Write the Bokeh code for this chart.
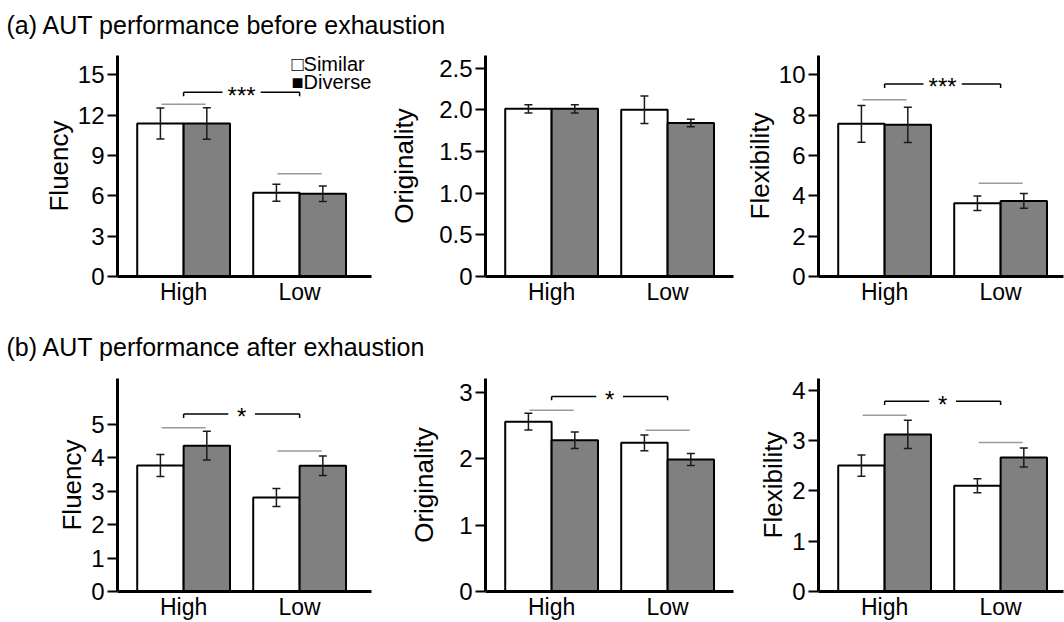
import numpy as np
from bokeh.plotting import figure
from bokeh.models import Range1d, FixedTicker, Whisker, ColumnDataSource, TeeHead
from bokeh.layouts import column, row
from bokeh.embed import file_html
from bokeh.resources import INLINE
from bokeh.core.properties import value

FONT = "Liberation Sans"

# ---------------- data ----------------
groups = ["High", "Low"]
series = ["Similar", "Diverse"]
section_titles = ["(a) AUT performance before exhaustion",
                  "(b) AUT performance after exhaustion"]
measures = ["Fluency", "Originality", "Flexibility"]

# (a) before exhaustion
fluency_a_similar = [11.38, 6.22]
fluency_a_similar_err = [1.15, 0.63]
fluency_a_diverse = [11.38, 6.15]
fluency_a_diverse_err = [1.17, 0.57]
fluency_a_pair_y = [12.8, 7.64]
fluency_a_bracket = 13.7
fluency_a_sig = "***"
fluency_a_ticks = [0, 3, 6, 9, 12, 15]
fluency_a_tick_labels = ["0", "3", "6", "9", "12", "15"]
fluency_a_ymax = 16.43

originality_a_similar = [2.01, 2.00]
originality_a_similar_err = [0.05, 0.165]
originality_a_diverse = [2.01, 1.84]
originality_a_diverse_err = [0.05, 0.045]
originality_a_pair_y = []
originality_a_bracket = None
originality_a_sig = ""
originality_a_ticks = [0, 0.5, 1.0, 1.5, 2.0, 2.5]
originality_a_tick_labels = ["0", "0.5", "1.0", "1.5", "2.0", "2.5"]
originality_a_ymax = 2.65

flexibility_a_similar = [7.57, 3.63]
flexibility_a_similar_err = [0.91, 0.36]
flexibility_a_diverse = [7.52, 3.75]
flexibility_a_diverse_err = [0.87, 0.37]
flexibility_a_pair_y = [8.76, 4.63]
flexibility_a_bracket = 9.55
flexibility_a_sig = "***"
flexibility_a_ticks = [0, 2, 4, 6, 8, 10]
flexibility_a_tick_labels = ["0", "2", "4", "6", "8", "10"]
flexibility_a_ymax = 10.96

# (b) after exhaustion
fluency_b_similar = [3.77, 2.81]
fluency_b_similar_err = [0.33, 0.27]
fluency_b_diverse = [4.36, 3.76]
fluency_b_diverse_err = [0.43, 0.29]
fluency_b_pair_y = [4.9, 4.2]
fluency_b_bracket = 5.31
fluency_b_sig = "*"
fluency_b_ticks = [0, 1, 2, 3, 4, 5]
fluency_b_tick_labels = ["0", "1", "2", "3", "4", "5"]
fluency_b_ymax = 6.37

originality_b_similar = [2.56, 2.24]
originality_b_similar_err = [0.125, 0.12]
originality_b_diverse = [2.28, 1.99]
originality_b_diverse_err = [0.125, 0.09]
originality_b_pair_y = [2.73, 2.43]
originality_b_bracket = 2.94
originality_b_sig = "*"
originality_b_ticks = [0, 1, 2, 3]
originality_b_tick_labels = ["0", "1", "2", "3"]
originality_b_ymax = 3.21

flexibility_b_similar = [2.50, 2.10]
flexibility_b_similar_err = [0.21, 0.14]
flexibility_b_diverse = [3.12, 2.66]
flexibility_b_diverse_err = [0.28, 0.19]
flexibility_b_pair_y = [3.5, 2.96]
flexibility_b_bracket = 3.78
flexibility_b_sig = "*"
flexibility_b_ticks = [0, 1, 2, 3, 4]
flexibility_b_tick_labels = ["0", "1", "2", "3", "4"]
flexibility_b_ymax = 4.23

legend_labels = ["\u25a1Similar", "\u25a0Diverse"]

# ---------------- layout constants ----------------
X_START = 0.43
PX_PER_GROUP = 116.0
BAR_W = 0.4
SIM_FILL = "white"
DIV_FILL = "#808080"
TEXT_SHIFT = -7  # compensation for baseline placement of text glyphs

COLS = [  # width, border_left, border_right, axis label standoff
    (378, 117, 7, 1),
    (360, 107, 5, 17),
    (326, 80, 1, 1),
]
ROWS = [  # height, border_top, border_bottom
    (264, 9, 34),
    (254, 10, 28),
]


def make_panel(col, rw, ylabel, ymax, ticks, tick_labels, sim, sim_err, div,
               div_err, pair_y, bracket, sig, legend=False):
    width, bl, br, lab_so = COLS[col]
    height, bt, bb = ROWS[rw]
    frame_w = width - bl - br
    frame_h = height - bt - bb
    x_end = X_START + frame_w / PX_PER_GROUP
    p = figure(width=width, height=height,
               x_range=Range1d(X_START, x_end), y_range=Range1d(0, ymax),
               toolbar_location=None, output_backend="svg",
               min_border_left=bl, min_border_right=br,
               min_border_top=bt, min_border_bottom=bb)
    p.outline_line_color = None
    p.xgrid.visible = False
    p.ygrid.visible = False
    p.background_fill_color = "white"

    gx = np.arange(1, len(groups) + 1, dtype=float)
    sx = gx - BAR_W / 2
    dx = gx + BAR_W / 2

    p.vbar(x=sx, top=sim, width=BAR_W, fill_color=SIM_FILL,
           line_color="black", line_width=2)
    p.vbar(x=dx, top=div, width=BAR_W, fill_color=DIV_FILL,
           line_color="black", line_width=2)

    for xs, vals, errs in ((sx, sim, sim_err), (dx, div, div_err)):
        v = np.array(vals)
        e = np.array(errs)
        src = ColumnDataSource(dict(x=xs, upper=v + e, lower=v - e))
        w = Whisker(base="x", upper="upper", lower="lower", source=src,
                    line_color="#1a1a1a", line_width=1.5, level="overlay",
                    upper_head=TeeHead(size=8, line_color="#1a1a1a", line_width=1.5),
                    lower_head=TeeHead(size=8, line_color="#1a1a1a", line_width=1.5))
        p.add_layout(w)

    if len(pair_y):
        p.segment(x0=gx - 0.19, x1=gx + 0.19, y0=pair_y, y1=pair_y,
                  line_color="#9a9a9a", line_width=1.5)

    if bracket is not None:
        upp = ymax / frame_h
        tick = 4 * upp
        gap = 0.33 if len(sig) > 1 else 0.23
        mid = (gx[0] + gx[-1]) / 2
        p.segment(x0=[gx[0], mid + gap / 2], x1=[mid - gap / 2, gx[-1]],
                  y0=[bracket, bracket], y1=[bracket, bracket],
                  line_color="black", line_width=1.5)
        p.segment(x0=[gx[0], gx[-1]], x1=[gx[0], gx[-1]],
                  y0=[bracket, bracket], y1=[bracket - tick, bracket - tick],
                  line_color="black", line_width=1.5)
        p.text(x=[mid], y=[bracket], text=[sig], text_font=value(FONT),
               text_font_size="24px", text_align="center",
               text_baseline="alphabetic", y_offset=3, text_color="black")

    if legend:
        upp = ymax / frame_h
        lx = X_START + (291 - bl) / PX_PER_GROUP
        frame_bottom = bt + frame_h + 46
        ly = [(frame_bottom - 70.7) * upp, (frame_bottom - 88.3) * upp]
        p.text(x=[lx, lx], y=ly, text=legend_labels, text_font=value(FONT),
               text_font_size="20px", text_align="left",
               text_baseline="alphabetic", y_offset=TEXT_SHIFT,
               text_color="black")

    # x axis
    xa = p.xaxis[0]
    xa.ticker = FixedTicker(ticks=list(gx))
    xa.major_label_overrides = {float(g): n for g, n in zip(gx, groups)}
    xa.major_tick_out = 0
    xa.major_tick_in = 0
    xa.minor_tick_out = 0
    xa.minor_tick_in = 0
    xa.axis_line_width = 3
    xa.axis_line_color = "black"
    xa.major_label_text_font = FONT
    xa.major_label_text_font_size = "23px"
    xa.major_label_text_color = "black"
    xa.major_label_standoff = 2

    ya = p.yaxis[0]
    ya.ticker = FixedTicker(ticks=ticks)
    ya.major_label_overrides = {float(t): l for t, l in zip(ticks, tick_labels)}
    ya.major_tick_out = 10
    ya.major_tick_in = 0
    ya.minor_tick_out = 0
    ya.minor_tick_in = 0
    ya.major_tick_line_width = 2
    ya.major_tick_line_color = "black"
    ya.axis_line_width = 3
    ya.axis_line_color = "black"
    ya.major_label_text_font = FONT
    ya.major_label_text_font_size = "24px"
    ya.major_label_text_color = "black"
    ya.major_label_standoff = 3
    ya.axis_label = ylabel
    ya.axis_label_text_font = FONT
    ya.axis_label_text_font_size = "26px"
    ya.axis_label_text_font_style = "normal"
    ya.axis_label_text_color = "black"
    ya.axis_label_standoff = lab_so
    return p


def title_fig(h, text, baseline_y):
    t = figure(width=1064, height=h, x_range=Range1d(0, 1064),
               y_range=Range1d(0, h), toolbar_location=None,
               output_backend="svg", x_axis_type=None, y_axis_type=None,
               min_border=0, min_border_left=0, min_border_right=0,
               min_border_top=0, min_border_bottom=0)
    t.outline_line_color = None
    t.text(x=[6], y=[baseline_y], text=[text], text_font=value(FONT),
           text_font_size="25px", text_baseline="alphabetic",
           text_align="left", text_color="black", y_offset=TEXT_SHIFT)
    return t


pa = [
    make_panel(0, 0, measures[0], fluency_a_ymax, fluency_a_ticks, fluency_a_tick_labels,
               fluency_a_similar, fluency_a_similar_err, fluency_a_diverse,
               fluency_a_diverse_err, fluency_a_pair_y, fluency_a_bracket,
               fluency_a_sig, legend=True),
    make_panel(1, 0, measures[1], originality_a_ymax, originality_a_ticks,
               originality_a_tick_labels, originality_a_similar,
               originality_a_similar_err, originality_a_diverse,
               originality_a_diverse_err, originality_a_pair_y,
               originality_a_bracket, originality_a_sig),
    make_panel(2, 0, measures[2], flexibility_a_ymax, flexibility_a_ticks,
               flexibility_a_tick_labels, flexibility_a_similar,
               flexibility_a_similar_err, flexibility_a_diverse,
               flexibility_a_diverse_err, flexibility_a_pair_y,
               flexibility_a_bracket, flexibility_a_sig),
]
pb = [
    make_panel(0, 1, measures[0], fluency_b_ymax, fluency_b_ticks, fluency_b_tick_labels,
               fluency_b_similar, fluency_b_similar_err, fluency_b_diverse,
               fluency_b_diverse_err, fluency_b_pair_y, fluency_b_bracket,
               fluency_b_sig),
    make_panel(1, 1, measures[1], originality_b_ymax, originality_b_ticks,
               originality_b_tick_labels, originality_b_similar,
               originality_b_similar_err, originality_b_diverse,
               originality_b_diverse_err, originality_b_pair_y,
               originality_b_bracket, originality_b_sig),
    make_panel(2, 1, measures[2], flexibility_b_ymax, flexibility_b_ticks,
               flexibility_b_tick_labels, flexibility_b_similar,
               flexibility_b_similar_err, flexibility_b_diverse,
               flexibility_b_diverse_err, flexibility_b_pair_y,
               flexibility_b_bracket, flexibility_b_sig),
]

layout = column(title_fig(46, section_titles[0], 46 - 31.7), row(*pa),
                title_fig(58, section_titles[1], 58 - 43), row(*pb))

open("out.html", "w").write(file_html(layout, INLINE))
